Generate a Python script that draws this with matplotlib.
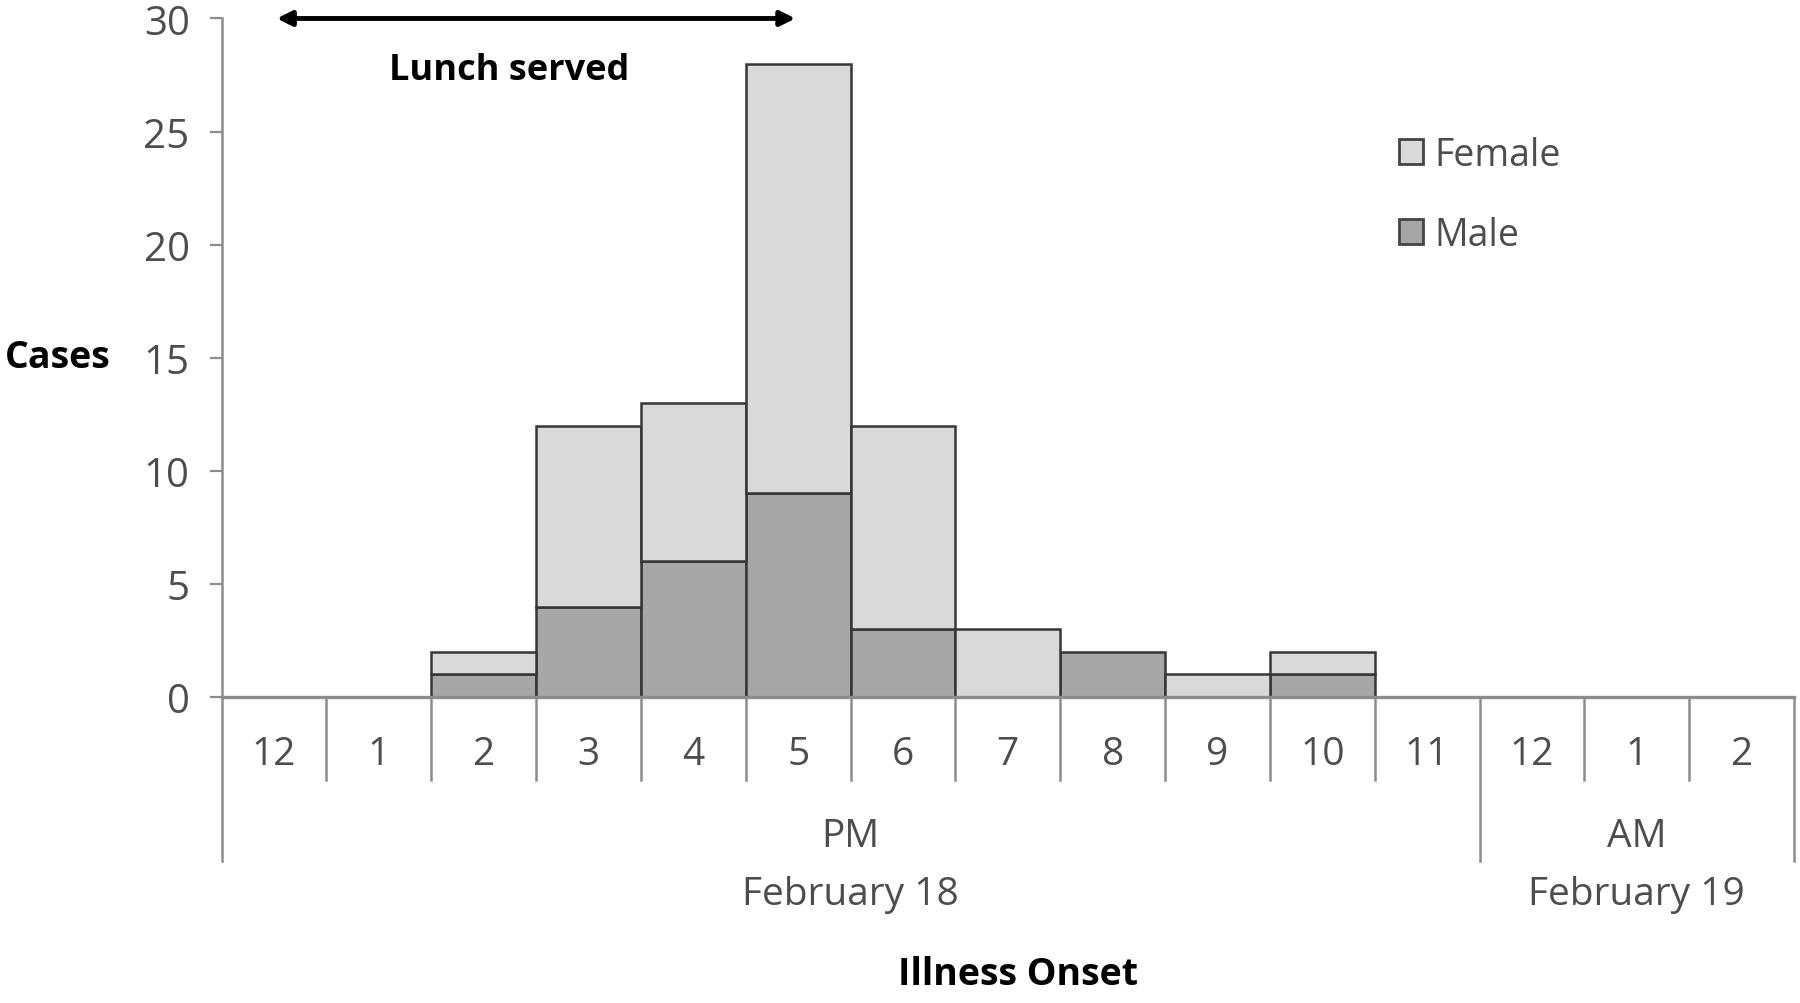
import numpy as np
import matplotlib.pyplot as plt
from matplotlib.patches import Patch

plt.rcParams['font.family'] = ['Open Sans', 'DejaVu Sans']

# hourly onset, Feb 18 12 PM to Feb 19 2 AM
hours = ['12', '1', '2', '3', '4', '5', '6', '7', '8', '9', '10', '11', '12', '1', '2']
male = np.array([0, 0, 1, 4, 6, 9, 3, 0, 2, 0, 1, 0, 0, 0, 0])
female = np.array([0, 0, 1, 8, 7, 19, 9, 3, 0, 1, 1, 0, 0, 0, 0])
periods = ['PM', 'AM']
dates = ['February 18', 'February 19']
group_span = [(0, 12), (12, 15)]

light = '#d9d9d9'
dark = '#a6a6a6'
edge = '#363636'
axcol = '#8c8c8c'
txtcol = '#4d4d4d'

fig = plt.figure(figsize=(18, 10.04), dpi=100)
ax = fig.add_axes([0.1231, 0.3048, 0.8736, 0.6758])

x = np.arange(len(hours))
m = male > 0
ax.bar(x[m], male[m], width=1.0, color=dark, edgecolor=edge, linewidth=1.8, zorder=2)
f = female > 0
ax.bar(x[f], female[f], bottom=male[f], width=1.0, color=light, edgecolor=edge, linewidth=1.8, zorder=2)

ax.set_xlim(-0.5, len(hours) - 0.5)
ax.set_ylim(0, 30)
ax.set_yticks(np.arange(0, 31, 5))
ax.tick_params(axis='y', labelsize=29, labelcolor=txtcol, color=axcol, length=9, width=1.6, pad=14)
ax.set_xticks([])
for s in ['top', 'right']:
    ax.spines[s].set_visible(False)
ax.spines['left'].set_color(axcol)
ax.spines['bottom'].set_color(axcol)
ax.spines['left'].set_linewidth(1.8)
ax.spines['bottom'].set_linewidth(2.4)
ax.spines['bottom'].set_zorder(3)

# category axis with two levels
tr = ax.get_xaxis_transform()
bounds = np.arange(len(hours) + 1) - 0.5
long_b = [group_span[0][0] - 0.5] + [g[1] - 0.5 for g in group_span]
for b in bounds:
    y1 = -0.242 if b in long_b else -0.122
    ax.plot([b, b], [0, y1], transform=tr, color=axcol, lw=1.8, clip_on=False)
for i, h in enumerate(hours):
    ax.text(i, -0.084, h, transform=tr, ha='center', va='center', fontsize=28, color=txtcol)
for p, d, (a, b) in zip(periods, dates, group_span):
    xc = (a + b - 1) / 2
    ax.text(xc, -0.205, p, transform=tr, ha='center', va='center', fontsize=28, color=txtcol)
    ax.text(xc, -0.29, d, transform=tr, ha='center', va='center', fontsize=28, color=txtcol)

ax.text(7.1, -0.408, 'Illness Onset', transform=tr, ha='center', va='center',
        fontsize=27, fontweight='bold', color='black')
fig.text(0.032, 0.643, 'Cases', ha='center', va='center', fontsize=27, fontweight='bold', color='black')

# lunch arrow
ax.annotate('', xy=(5, 30), xytext=(0, 30), annotation_clip=False,
            arrowprops=dict(arrowstyle='<|-|>', color='black', lw=3.5, mutation_scale=22))
ax.text(2.24, 27.7, 'Lunch served', ha='center', va='center', fontsize=26, fontweight='bold', color='black')

handles = [Patch(facecolor=light, edgecolor='#444444', linewidth=2),
           Patch(facecolor=dark, edgecolor='#444444', linewidth=2)]
ax.legend(handles, ['Female', 'Male'], loc='upper left', bbox_to_anchor=(0.727, 0.877),
          frameon=False, fontsize=27, labelcolor=txtcol, handlelength=0.65, handleheight=0.65,
          handletextpad=0.3, labelspacing=1.12)

fig.savefig('out.png', dpi=100)
